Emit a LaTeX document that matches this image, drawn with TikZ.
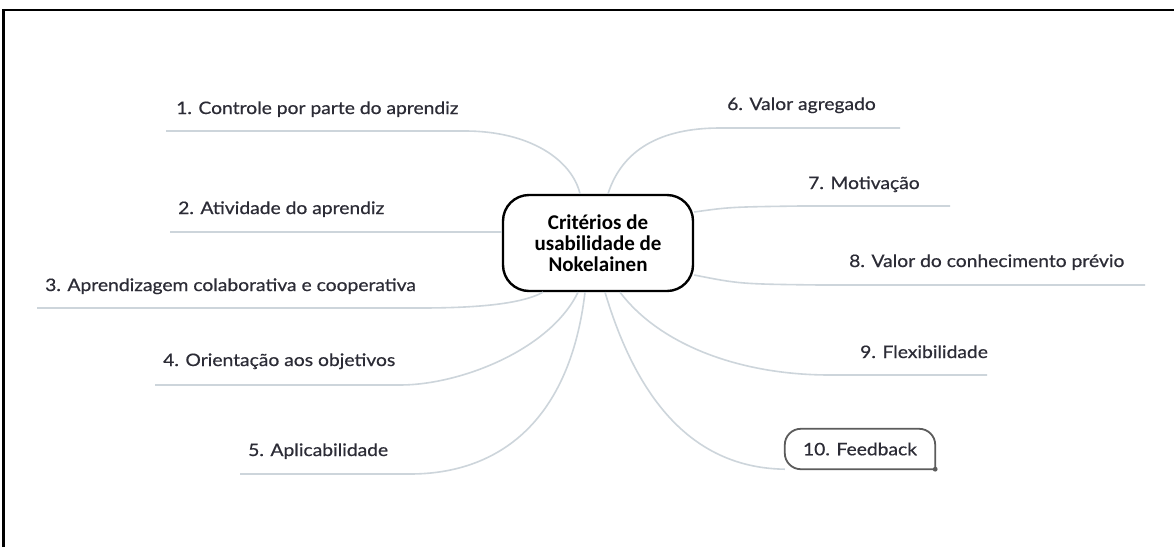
\documentclass[tikz,border=0pt]{standalone}
\usepackage{fontspec}
\setmainfont{Lato}[FakeStretch=1.12,FakeBold=0.6]
\newfontfamily\hubfont{Carlito}
\definecolor{linegray}{HTML}{CDD5DB}
\definecolor{txt}{HTML}{2C2C36}
\definecolor{boxgray}{HTML}{5C5C5C}
\begin{document}
\begin{tikzpicture}[x=1pt,y=-1pt,
  branch/.style={draw=linegray, line width=1.6pt},
  lbl/.style={anchor=west, inner sep=0pt, text height=12pt, text depth=4pt, font=\fontsize{17.2}{20}\selectfont, text=txt},
  hub/.style={draw=black, line width=2.4pt, rounded corners=26pt, minimum width=190pt, minimum height=96pt, align=center, font=\hubfont\bfseries\fontsize{21}{21}\selectfont, text=black, inner sep=0pt},
  fblabel/.style={inner sep=0pt, minimum width=150pt, minimum height=40pt, font=\fontsize{17.2}{20}\selectfont, text=txt},
  fbbox/.style={draw=boxgray, line width=1.8pt, rounded corners=16pt}]
\useasboundingbox (0,0) rectangle (1174,547);
\fill[white] (0,0) rectangle (1174,547);
% frame
\draw[line width=2.5pt] (3.5,547) -- (3.5,10) -- (1174,10);

% hub
\node[hub] (c) at (598,243) {Critérios de\\usabilidade de\\Nokelainen};

% labels
\node[lbl] (t1) at (176,110) {1. Controle por parte do aprendiz};
\node[lbl] (t2) at (178,210) {2. Atividade do aprendiz};
\node[lbl] (t3) at (45,287) {3. Aprendizagem colaborativa e cooperativa};
\node[lbl] (t4) at (163,362) {4. Orientação aos objetivos};
\node[lbl] (t5) at (248,452) {5. Aplicabilidade};
\node[lbl] (t6) at (727,106) {6. Valor agregado};
\node[lbl] (t7) at (808,185) {7. Motivação};
\node[lbl] (t8) at (849,263) {8. Valor do conhecimento prévio};
\node[lbl] (t9) at (860,354) {9. Flexibilidade};
\node[fblabel] (f) at (860,449) {10. Feedback};

% underline ends
\coordinate (u1) at (166,131);
\coordinate (u2) at (170,232);
\coordinate (u3) at (37,308);
\coordinate (u4) at (155,385);
\coordinate (u5) at (240,474);
\coordinate (u6) at (900,128);
\coordinate (u7) at (950,206);
\coordinate (u8) at (1145,285);
\coordinate (u9) at (987,375);

% branches left
\draw[branch] ([xshift=-18pt]c.north) .. controls (572,160) and (530,131) .. (465,131) -- (u1);
\draw[branch] ([yshift=11pt]c.west) -- (u2);
\draw[branch] ([xshift=-55pt]c.south) .. controls (520,305) and (470,308) .. (420,308) -- (u3);
\draw[branch] ([xshift=-20pt]c.south) .. controls (550,350) and (460,385) .. (400,385) -- (u4);
\draw[branch] ([xshift=-13pt]c.south) .. controls (570,420) and (500,474) .. (410,474) -- (u5);
% branches right
\draw[branch] ([xshift=10pt]c.north) .. controls (622,150) and (660,128) .. (720,128) -- (u6);
\draw[branch] ([yshift=31pt]c.east) .. controls (730,207) .. (800,206) -- (u7);
\draw[branch] ([yshift=-32pt]c.east) .. controls (740,284) .. (820,285) -- (u8);
\draw[branch] ([xshift=22pt]c.south) .. controls (660,345) and (740,375) .. (830,375) -- (u9);
\draw[branch] ([xshift=7pt]c.south) .. controls (640,410) and (700,468) .. (f.south west);

% feedback box
\draw[fbbox] (f.south east) |- (f.north west) |- (f.south east);
\fill[boxgray] (f.south east) circle (2.4pt);
\end{tikzpicture}
\end{document}
